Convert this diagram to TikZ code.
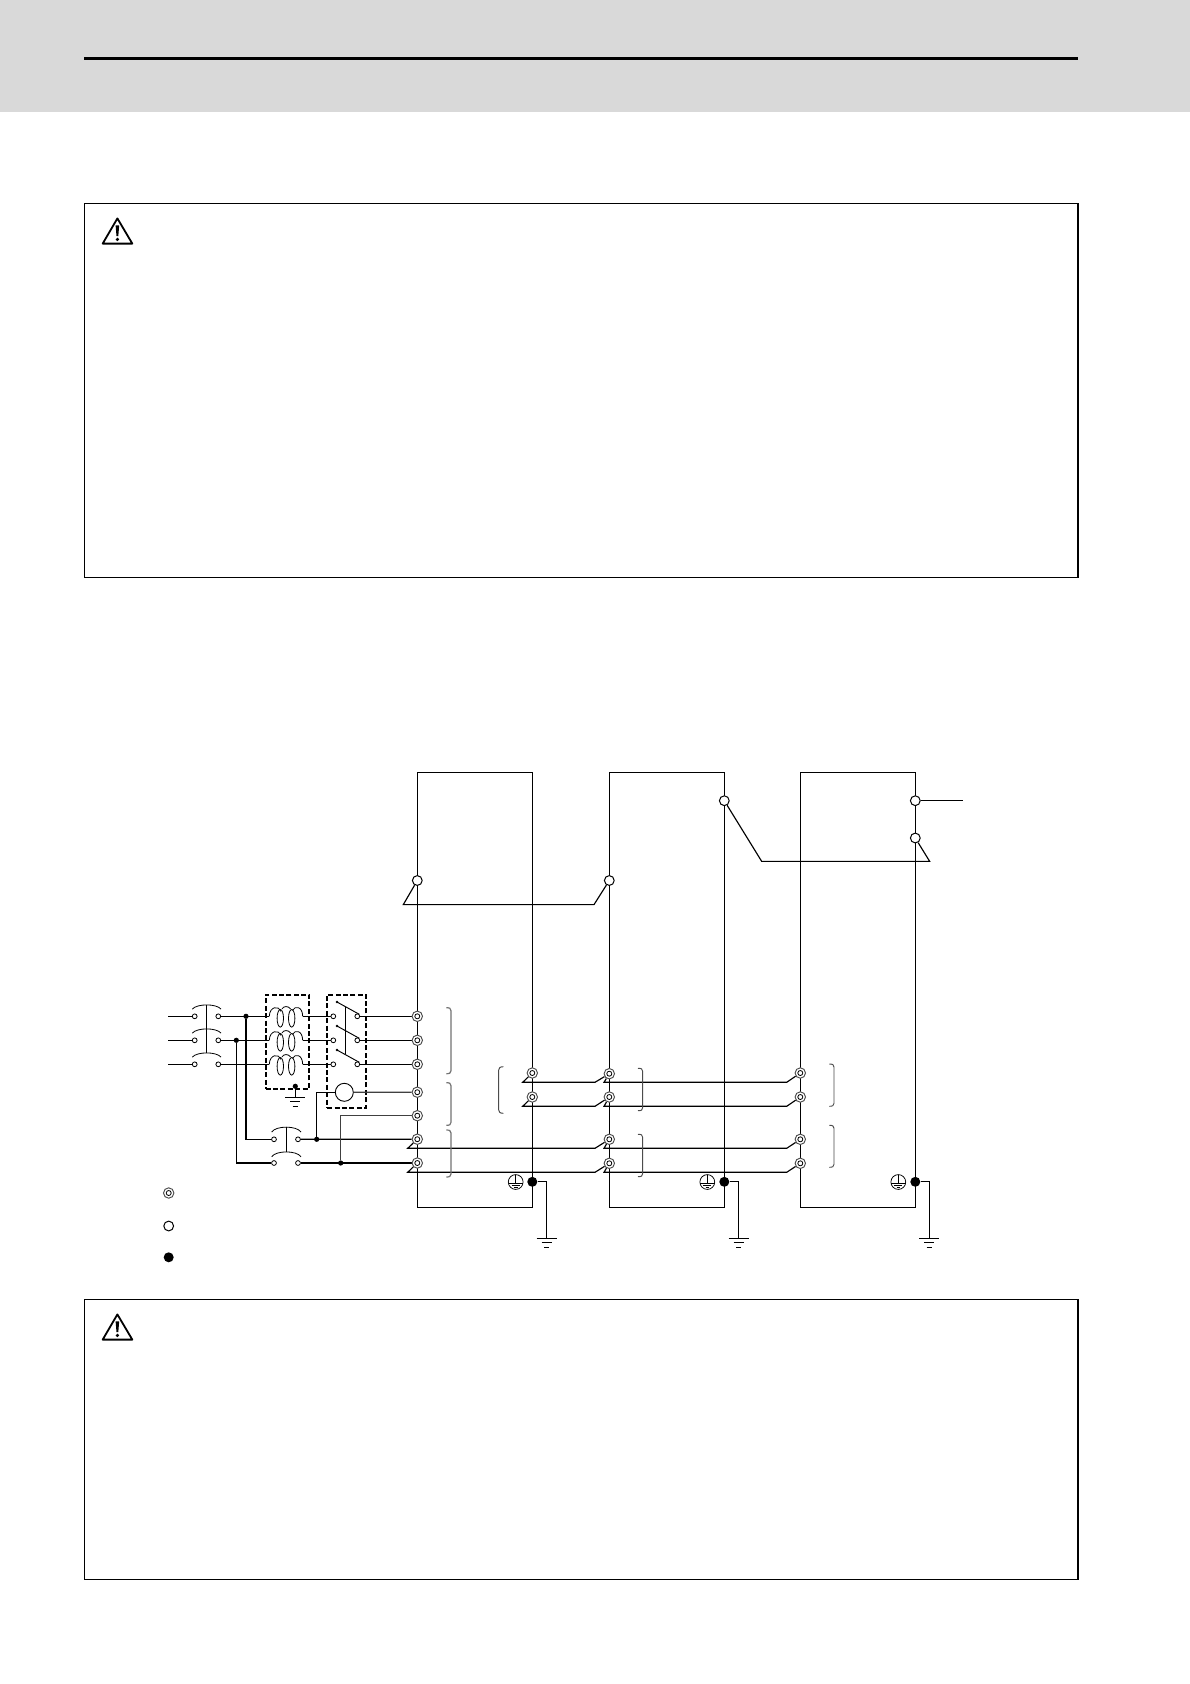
\documentclass[tikz,border=0pt]{standalone}
\usetikzlibrary{backgrounds}
\pgfdeclarelayer{front}
\pgfsetlayers{main,front}
\definecolor{hdr}{HTML}{D9D9D9}
\definecolor{brk}{gray}{0.3}
\definecolor{brkl}{gray}{0.45}
\tikzset{
  wire/.style={line width=1.15pt,line join=miter},
  panel/.style={draw,line width=1.2pt,minimum width=993.4pt,anchor=north west,inner sep=0pt},
  drive/.style={draw,line width=1.15pt,minimum width=115pt,minimum height=434.7pt,anchor=north west,inner sep=0pt},
  dashbox/.style={draw,line width=1.9pt,dash pattern=on 5pt off 2.4pt,anchor=north west,inner sep=0pt},
  dterm/.style={circle,draw=black!70,fill=white,line width=0.95pt,minimum size=10.4pt,inner sep=0pt,
    path picture={\draw[line width=0.8pt,black] (path picture bounding box.center) circle (2.5);}},
  oterm/.style={circle,draw,fill=white,line width=1pt,minimum size=9.8pt,inner sep=0pt},
  fterm/.style={circle,fill=black,minimum size=10pt,inner sep=0pt},
  sc/.style={circle,draw,fill=white,line width=0.8pt,minimum size=4.8pt,inner sep=0pt},
  jdot/.style={circle,fill=black,minimum size=5.2pt,inner sep=0pt},
  pe/.style={circle,draw=black,fill=white,line width=0.75pt,minimum size=14.8pt,inner sep=0pt},
  brace/.style={line width=0.95pt,draw=brk},
  bracel/.style={line width=1.2pt,draw=brkl},
  gbar/.style={line width=1pt},
  thin arc/.style={line width=0.8pt},
}
\newcommand{\rbrk}[4]{\draw[#4] (#1-4.7,#2) .. controls (#1-1.5,#2) and (#1,#2+0.6) .. (#1,#2+3) -- (#1,#3-3) .. controls (#1,#3-0.6) and (#1-1.5,#3) .. (#1-4.7,#3);}
\newcommand{\warntri}[1]{%
  \begin{scope}[shift={(0,#1)}]
    \draw[line width=1.8pt,line join=round] (117.4,218.4) -- (132.3,243.6) -- (102.7,243.6) -- cycle;
    \fill (115.6,225.3) -- (119.2,225.3) -- (118.3,236) -- (116.5,236) -- cycle;
    \fill (117.4,239.4) circle (1.8);
  \end{scope}}
\newcommand{\gnd}[2]{\draw[gbar] (#1-10,#2) -- (#1+10,#2) (#1-5,#2+4.4) -- (#1+5,#2+4.4) (#1-2.6,#2+8.8) -- (#1+2.6,#2+8.8);}
\newcommand{\peinner}[2]{\draw[line width=0.75pt] (#1,#2-7.2) -- (#1,#2+1) (#1-7.2,#2+1) -- (#1+7.2,#2+1) (#1-4,#2+3.7) -- (#1+4,#2+3.7) (#1-1.8,#2+5.8) -- (#1+1.8,#2+5.8);}
\begin{document}
\begin{tikzpicture}[x=1pt,y=-1pt]
\useasboundingbox (0,0) rectangle (1190,1684);
\fill[white] (0,0) rectangle (1190,1684);
\fill[hdr] (0,0) rectangle (1190,112);
\fill[black] (84,57.3) rectangle (1078,60.2);

\node[panel,minimum height=374pt] (warn1) at (84,203) {};
\node[panel,minimum height=280pt] (warn2) at (84,1299) {};
\warntri{0}
\warntri{1096}

% drive units
\node[drive] (d1) at (417.3,772.3) {};
\node[drive] (d2) at (609.3,772.3) {};
\node[drive] (d3) at (800.3,772.3) {};

% dashed enclosures
\node[dashbox,minimum width=43.6pt,minimum height=94pt] (dcl) at (264.6,993.6) {};
\node[dashbox,minimum width=39pt,minimum height=113pt] (mc) at (326.2,993.6) {};

\begin{pgfonlayer}{front}
  \foreach \n/\y in {1/1016.3,2/1040.3,3/1064.3}{
    \node[sc] (qa\n) at (194.7,\y) {};
    \node[sc] (qb\n) at (218.3,\y) {};
    \node[sc] (ka\n) at (333.3,\y) {};
    \node[sc] (kb\n) at (357.3,\y) {};
    \node[dterm] (ta\n) at (417.3,\y) {};
  }
  \node[dterm] (tb1) at (417.3,1092.2) {};
  \node[dterm] (tb2) at (417.3,1115.7) {};
  \node[dterm] (tc1) at (417.3,1139.2) {};
  \node[dterm] (tc2) at (417.3,1163) {};
  \node[dterm] (e11) at (532.3,1073) {};
  \node[dterm] (e12) at (532.3,1097) {};
  \node[dterm] (e21) at (609.3,1073.7) {};
  \node[dterm] (e22) at (609.3,1097) {};
  \node[dterm] (e31) at (800.3,1073) {};
  \node[dterm] (e32) at (800.3,1097) {};
  \node[dterm] (f21) at (609.3,1139.3) {};
  \node[dterm] (f22) at (609.3,1163.3) {};
  \node[dterm] (f31) at (800.3,1139.3) {};
  \node[dterm] (f32) at (800.3,1163.3) {};
  \node[oterm] (o1) at (417.3,880.5) {};
  \node[oterm] (o2) at (609.3,880.5) {};
  \node[oterm] (o3) at (724.3,800.7) {};
  \node[oterm] (o4) at (915.3,800.7) {};
  \node[oterm] (o5) at (915.3,838) {};
  \node[fterm] (g1) at (532.3,1181.8) {};
  \node[fterm] (g2) at (724.3,1181.8) {};
  \node[fterm] (g3) at (915.3,1181.8) {};
  \node[pe] (p1) at (515.7,1182) {};
  \node[pe] (p2) at (707.3,1182) {};
  \node[pe] (p3) at (898.3,1182) {};
  \peinner{515.7}{1182}
  \peinner{707.3}{1182}
  \peinner{898.3}{1182}
  \node[dterm] (lg1) at (168.7,1193) {};
  \node[oterm] (lg2) at (168.7,1226) {};
  \node[fterm] (lg3) at (168.7,1257.3) {};
  \node[jdot] (j1) at (246,1016.3) {};
  \node[jdot] (j2) at (236.3,1040.3) {};
  \node[jdot] (j3) at (316.7,1139.3) {};
  \node[jdot] (j4) at (340.7,1163) {};
  \node[jdot] (j5) at (295.3,1086.3) {};
  \node[sc] (qc1) at (274,1139.3) {};
  \node[sc] (qd1) at (298,1139.3) {};
  \node[sc] (qc2) at (274,1163) {};
  \node[sc] (qd2) at (298,1163) {};
  \node[circle,draw,fill=white,line width=0.9pt,minimum size=18pt,inner sep=0pt] (coilm) at (344.3,1092.3) {};
\end{pgfonlayer}

% three-phase wiring
\foreach \n/\y in {1/1016.3,2/1040.3,3/1064.3}{
  \coordinate (in\n) at (168.3,\y);
  \coordinate (cl\n) at (269.3,\y);
  \coordinate (cr\n) at (302.7,\y);
  \draw[wire] (in\n) -- (qa\n);
  \draw[wire] (qb\n) -- (cl\n);
  \draw[wire] (cr\n) -- (ka\n);
  \draw[wire] (kb\n) -- (ta\n);
  % breaker arc
  \draw[thin arc,shift={(0,\y)}] (192.3,-7.2) .. controls (197,-12.8) and (216.5,-12.8) .. (221,-7.2);
  % reactor coil
  \begin{scope}[shift={(0,\y)},thin arc]
    \draw (269.3,0) .. controls (269.5,-10) and (279,-11) .. (281,-5);
    \draw (282,-7.5) .. controls (284,-10.5) and (288,-10.5) .. (290.5,-7.5);
    \draw (292.5,-6) .. controls (295,-11) and (302.5,-10) .. (302.7,0);
    \draw (280.3,2) ellipse (3.2 and 8.8);
    \draw (291.7,2) ellipse (3.2 and 8.8);
  \end{scope}
  % contactor blade
  \draw[line width=0.95pt,shift={(0,\y)}] (337,-14.3) -- (359.3,-2);
  \fill[shift={(0,\y)}] (337,-14.3) circle (1.3);
}
\draw[line width=0.85pt] (206.3,1004.7) -- (206.3,1052.7);
\draw[line width=0.85pt] (345.3,1007) -- (345.3,1054);

% reactor earth
\coordinate (ge) at (295.3,1097.3);
\draw[wire] (j5) -- (ge);
\gnd{295.3}{1097.3}

% control supply
\draw[wire] (j1) -- (246,1139.3) -- (qc1);
\draw[wire] (j2) -- (236.3,1163) -- (qc2);
\draw[wire] (qd1) -- (tc1);
\draw[wire] (qd2) -- (tc2);
\draw[thin arc] (271.7,1132) .. controls (276,1125.5) and (296.5,1125.5) .. (301,1132);
\draw[thin arc] (271.7,1156.7) .. controls (276,1150.3) and (296.5,1150.3) .. (301,1156.7);
\draw[line width=0.85pt] (286.3,1127) -- (286.3,1151.7);
\draw[wire] (j3) |- (coilm);
\draw[wire,draw=black!75] (coilm) -- (tb1);
\draw[wire,draw=black!75] (j4) |- (tb2);

% daisy-chain wiring
\draw[wire] (tc1) -- (407.7,1148.3) -- (595,1148.3) -- (f21);
\draw[wire] (tc2) -- (407.7,1172.3) -- (595,1172.3) -- (f22);
\draw[wire] (f21) -- (604,1148.3) -- (786.7,1148.3) -- (f31);
\draw[wire] (f22) -- (604,1172.3) -- (786.7,1172.3) -- (f32);
\draw[wire] (e11) -- (522.7,1082.3) -- (595,1082.3) -- (e21);
\draw[wire] (e12) -- (522.7,1106.3) -- (595,1106.3) -- (e22);
\draw[wire] (e21) -- (604,1082.3) -- (786.7,1082.3) -- (e31);
\draw[wire] (e22) -- (604,1106.3) -- (786.7,1106.3) -- (e32);

% signal wiring
\draw[wire] (o1) -- (403.3,904.6) -- (594,904.6) -- (o2);
\draw[wire] (o3) -- (761.7,861.4) -- (929.7,861.4) -- (o5);
\coordinate (sigout) at (963,800.7);
\draw[wire] (o4) -- (sigout);

% earths
\coordinate (ge1) at (546.7,1238.3);
\coordinate (ge2) at (738.7,1238.3);
\coordinate (ge3) at (929.3,1238.3);
\draw[wire] (g1) -| (ge1);
\draw[wire] (g2) -| (ge2);
\draw[wire] (g3) -| (ge3);
\gnd{546.7}{1238.3}
\gnd{738.7}{1238.3}
\gnd{929.3}{1238.3}

% braces
\rbrk{451}{1007.7}{1073.7}{bracel}
\rbrk{451}{1082.7}{1125.3}{bracel}
\rbrk{451}{1130}{1177}{bracel}
\draw[brace] (503.3,1066.7) .. controls (500,1066.7) and (498.7,1068) .. (498.7,1070) -- (498.7,1110) .. controls (498.7,1112) and (500,1113.3) .. (503.3,1113.3);
\rbrk{642.7}{1068.3}{1110.7}{brace}
\rbrk{642.7}{1134.3}{1176.7}{brace}
\rbrk{834}{1064}{1106.3}{brace}
\rbrk{834}{1125.3}{1167.3}{brace}
\end{tikzpicture}
\end{document}
